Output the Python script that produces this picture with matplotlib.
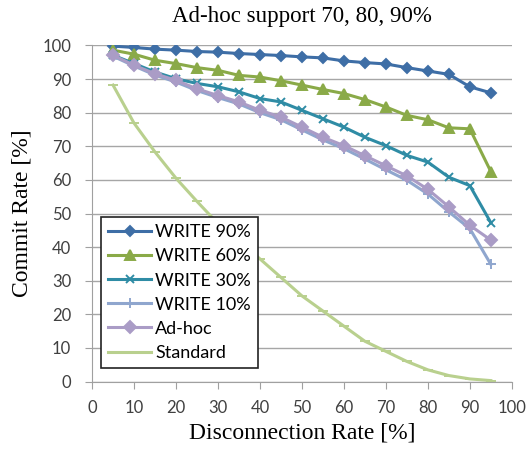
import matplotlib.pyplot as plt

# disconnection rate (x) and commit rates for each series
disconnect = [5, 10, 15, 20, 25, 30, 35, 40, 45, 50, 55, 60, 65, 70, 75, 80, 85, 90, 95]
write_90 = [99.8, 99.4, 98.9, 98.6, 98.2, 98.0, 97.6, 97.3, 97.0, 96.6, 96.3, 95.4, 94.9, 94.5, 93.4, 92.4, 91.4, 87.7, 85.9]
write_60 = [98.6, 97.4, 95.6, 94.6, 93.4, 92.6, 91.1, 90.6, 89.5, 88.2, 86.9, 85.7, 83.9, 81.7, 79.2, 77.9, 75.5, 75.2, 62.5]
write_30 = [97.1, 94.6, 92.1, 90.1, 88.7, 87.7, 86.2, 84.2, 83.2, 80.7, 78.2, 75.7, 72.7, 70.2, 67.3, 65.3, 60.8, 58.3, 47.3]
write_10 = [96.8, 93.9, 91.2, 89.1, 86.6, 84.5, 82.6, 80.0, 77.9, 74.9, 71.9, 69.3, 66.2, 63.0, 59.9, 55.8, 50.5, 45.5, 34.9]
adhoc = [97.1, 94.1, 91.6, 89.6, 87.1, 85.1, 83.2, 80.7, 78.7, 75.7, 72.7, 70.2, 67.2, 64.2, 61.2, 57.2, 52.0, 46.5, 42.1]
standard = [88.2, 76.9, 68.3, 60.5, 53.6, 47.0, 41.8, 36.5, 31.0, 25.5, 21.0, 16.5, 12.0, 9.0, 6.0, 3.5, 1.8, 0.8, 0.3]

labels = ["WRITE 90%", "WRITE 60%", "WRITE 30%", "WRITE 10%", "Ad-hoc", "Standard"]
series = [write_90, write_60, write_30, write_10, adhoc, standard]
colors = ["#3E6EA6", "#8AAA48", "#2F8CA5", "#8FA6CE", "#AA9CC6", "#B9D08E"]
markers = ["D", "^", "x", "+", "D", "_"]
msizes = [5.5, 7, 6, 7, 6, 7]

fig = plt.figure(figsize=(5.26, 4.5), dpi=100)
ax = fig.add_axes([0.175, 0.152, 0.798, 0.747])

for ys, lab, c, m, ms in zip(series, labels, colors, markers, msizes):
    ax.plot(disconnect, ys, color=c, lw=2.2, marker=m, markersize=ms,
            markeredgewidth=1.4, markeredgecolor=c, label=lab)

ax.set_xlim(0, 100)
ax.set_ylim(0, 100)
ax.set_xticks(range(0, 101, 10))
ax.set_yticks(range(0, 101, 10))
ax.yaxis.grid(True, color="#A6A6A6", lw=1)
ax.set_axisbelow(True)
for s in ["top", "right"]:
    ax.spines[s].set_visible(False)
for s in ["left", "bottom"]:
    ax.spines[s].set_color("#A0A0A0")
ax.tick_params(colors="#A0A0A0", labelcolor="#404040", labelsize=12, length=5)
ax.tick_params(axis="x", pad=8)
ax.tick_params(axis="y", pad=10)
for t in ax.get_xticklabels() + ax.get_yticklabels():
    t.set_family("Lato")

ax.set_title("Ad-hoc support 70, 80, 90%", family="Liberation Serif", fontsize=16.5, pad=17)
ax.set_xlabel("Disconnection Rate [%]", family="Liberation Serif", fontsize=17, labelpad=5)
ax.set_ylabel("Commit Rate [%]", family="Liberation Serif", fontsize=17, labelpad=7)

leg = ax.legend(loc="lower left", bbox_to_anchor=(0.021, 0.04), fancybox=False,
                edgecolor="#222222", framealpha=1, prop={"family": "Lato", "size": 13},
                handlelength=2.4, handletextpad=0.2, labelspacing=0.45, borderpad=0.4,
                borderaxespad=0)
leg.get_frame().set_linewidth(1.2)

fig.savefig("out.png", dpi=100)
